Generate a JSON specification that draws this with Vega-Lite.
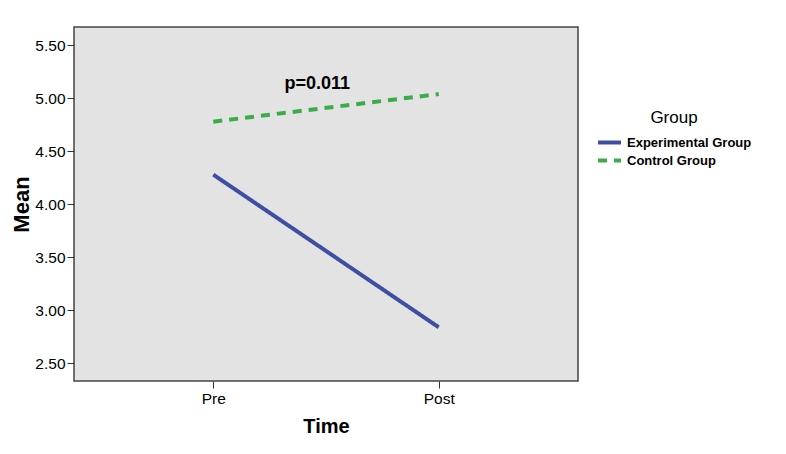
{
  "$schema": "https://vega.github.io/schema/vega-lite/v6.json",
  "width": 504,
  "height": 354,
  "autosize": {"type": "none"},
  "padding": {"left": 74, "top": 27, "right": 208, "bottom": 73},
  "background": "white",
  "config": {
    "font": "Liberation Sans",
    "view": {"fill": "#e3e3e3", "stroke": "#444444", "strokeWidth": 1.5},
    "axis": {"grid": false, "domain": false, "tickColor": "#333333", "tickSize": 7, "labelColor": "black", "titleColor": "black", "labelFont": "Liberation Sans", "titleFont": "Liberation Sans"}
  },
  "datasets": {
    "means": [
      {"Time": "Pre", "Group": "Experimental Group", "Mean": 4.28},
      {"Time": "Post", "Group": "Experimental Group", "Mean": 2.84},
      {"Time": "Pre", "Group": "Control Group", "Mean": 4.78},
      {"Time": "Post", "Group": "Control Group", "Mean": 5.04}
    ],
    "note": [
      {"Time": "Pre", "Mean": 5.14, "label": "p=0.011"}
    ]
  },
  "encoding": {
    "x": {
      "field": "Time", "type": "ordinal", "sort": ["Pre", "Post"],
      "scale": {"type": "point", "domain": ["Pre", "Post"], "padding": 0.618},
      "axis": {"title": "Time", "labelAngle": 0, "labelFontSize": 15.5, "labelPadding": 3, "titleFontSize": 20, "titleFontWeight": "bold", "titlePadding": 10}
    },
    "y": {
      "field": "Mean", "type": "quantitative",
      "scale": {"domain": [2.333, 5.673], "nice": false, "zero": false},
      "axis": {"title": "Mean", "values": [2.5, 3.0, 3.5, 4.0, 4.5, 5.0, 5.5], "format": ".2f", "labelFontSize": 15.5, "labelPadding": 2, "titleFontSize": 22, "titleFontWeight": "bold", "titlePadding": 1}
    }
  },
  "layer": [
    {
      "data": {"name": "means"},
      "mark": {"type": "line", "strokeWidth": 4, "strokeCap": "butt"},
      "encoding": {
        "color": {
          "field": "Group", "type": "nominal",
          "sort": ["Experimental Group", "Control Group"],
          "scale": {"domain": ["Experimental Group", "Control Group"], "range": ["#3e4fa3", "#3cab4a"]},
          "legend": {
            "title": "Group", "orient": "none", "legendX": 522, "legendY": 83,
            "titleFontSize": 17, "titleFontWeight": "normal", "titleColor": "black",
            "titleAnchor": "middle", "titleAlign": "center", "titlePadding": 8,
            "labelFontSize": 13, "labelFontWeight": "bold", "labelColor": "black",
            "symbolType": "stroke", "symbolStrokeWidth": 4, "symbolSize": 529,
            "clipHeight": 15, "rowPadding": 3, "labelOffset": 4
          }
        },
        "strokeDash": {
          "field": "Group", "type": "nominal",
          "sort": ["Experimental Group", "Control Group"],
          "scale": {"domain": ["Experimental Group", "Control Group"], "range": [[1, 0], [9, 7]]},
          "legend": null
        }
      }
    },
    {
      "data": {"name": "note"},
      "mark": {"type": "text", "fontSize": 18, "fontWeight": "bold", "color": "black", "dx": 104, "dy": 1, "align": "center", "baseline": "middle"},
      "encoding": {
        "text": {"field": "label"}
      }
    }
  ]
}
